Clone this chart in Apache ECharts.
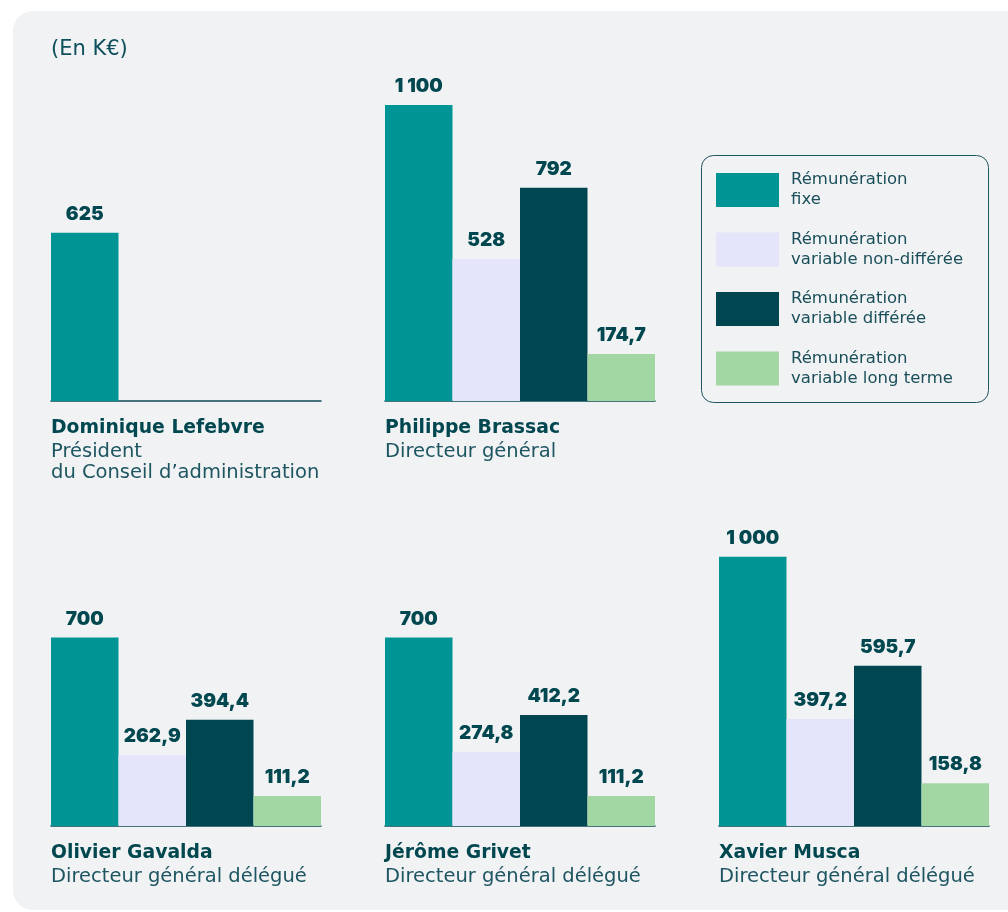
<!DOCTYPE html>
<html>
<head>
<meta charset="utf-8">
<script src="https://cdn.jsdelivr.net/npm/echarts@6/dist/echarts.min.js"></script>
<style>
  html, body { margin: 0; padding: 0; background: #fff; }
  #chart { width: 1008px; height: 912px; }
</style>
</head>
<body>
<div id="chart"></div>
<script>
// Données (en K€)
const people = ['Dominique Lefebvre', 'Philippe Brassac', 'Olivier Gavalda', 'Jérôme Grivet', 'Xavier Musca']
const roles = [
  'Président\ndu Conseil d\u2019administration',
  'Directeur général',
  'Directeur général délégué',
  'Directeur général délégué',
  'Directeur général délégué'
]
const seriesNames = [
  'Rémunération fixe',
  'Rémunération variable non-différée',
  'Rémunération variable différée',
  'Rémunération variable long terme'
]
const fixe = [625, 1100, 700, 700, 1000]
const variableNonDifferee = [null, 528, 262.9, 274.8, 397.2]
const variableDifferee = [null, 792, 394.4, 412.2, 595.7]
const variableLongTerme = [null, 174.7, 111.2, 111.2, 158.8]

const values = [fixe, variableNonDifferee, variableDifferee, variableLongTerme]
const colors = ['#009494', '#e4e4fa', '#004650', '#a2d6a2']
const dark = '#00474f'

// position des 5 petits graphiques
const lefts = [51, 385, 51, 385, 719]
const tops = [78, 78, 503, 503, 503]
const gridW = 270
const gridH = 323

// 1 100 / 174,7
function fmt (v) {
  const parts = String(v).split('.')
  const int = parts[0].replace(/\B(?=(\d{3})+(?!\d))/g, ' ')
  return parts.length > 1 ? int + ',' + parts[1] : int
}

const grid = []
const xAxis = []
const yAxis = []
const series = []
const title = [{
  text: '(En K€)',
  left: 51,
  top: 39,
  padding: 0,
  textStyle: { fontFamily: 'DejaVu Sans', fontSize: 21, fontWeight: 'normal', color: '#0e4f5c' }
}]

people.forEach((p, g) => {
  grid.push({ left: lefts[g], top: tops[g], width: gridW, height: gridH })
  xAxis.push({
    gridIndex: g,
    type: 'category',
    data: [p],
    axisLine: { lineStyle: { color: '#0d4b55', width: 1.5 } },
    axisTick: { show: false },
    axisLabel: { show: false }
  })
  yAxis.push({ gridIndex: g, type: 'value', min: 0, max: 1200, show: false, splitLine: { show: false } })
  values.forEach((arr, k) => {
    series.push({
      type: 'bar',
      name: seriesNames[k],
      xAxisIndex: g,
      yAxisIndex: g,
      data: [arr[g]],
      barGap: 0,
      barCategoryGap: 0,
      itemStyle: { color: colors[k] },
      label: {
        show: true,
        position: 'top',
        distance: 9,
        formatter: (d) => fmt(d.value),
        fontFamily: 'Inter',
        fontWeight: 900,
        fontSize: 19,
        color: dark
      }
    })
  })
  title.push({
    text: p,
    subtext: roles[g],
    left: lefts[g],
    top: tops[g] + gridH + 17,
    padding: 0,
    itemGap: 2,
    textStyle: { fontFamily: 'DejaVu Sans', fontSize: 18.8, fontWeight: 'bold', color: dark, lineHeight: 21 },
    subtextStyle: { fontFamily: 'DejaVu Sans', fontSize: 19.5, color: '#1d5561', lineHeight: 21 }
  })
})

const chart = echarts.init(document.getElementById('chart'))
chart.setOption({
  animation: false,
  backgroundColor: '#ffffff',
  graphic: [
    {
      type: 'rect',
      z: -10,
      shape: { x: 13, y: 11, width: 1020, height: 899, r: 20 },
      style: { fill: '#f1f2f4' }
    },
    {
      type: 'rect',
      z: -5,
      shape: { x: 701.5, y: 155.5, width: 287, height: 247, r: 12 },
      style: { fill: 'none', stroke: '#1f5560', lineWidth: 1 }
    }
  ],
  title,
  legend: {
    orient: 'vertical',
    left: 716,
    top: 170,
    padding: 0,
    itemWidth: 63,
    itemHeight: 34,
    itemGap: 19.5,
    icon: 'rect',
    selectedMode: false,
    data: seriesNames,
    formatter: (name) => name.replace('Rémunération ', 'Rémunération\n'),
    textStyle: { fontFamily: 'DejaVu Sans', fontSize: 16.5, lineHeight: 20, color: '#1a4f5a', padding: [0, 0, 0, 7] }
  },
  grid,
  xAxis,
  yAxis,
  series
})
</script>
</body>
</html>
